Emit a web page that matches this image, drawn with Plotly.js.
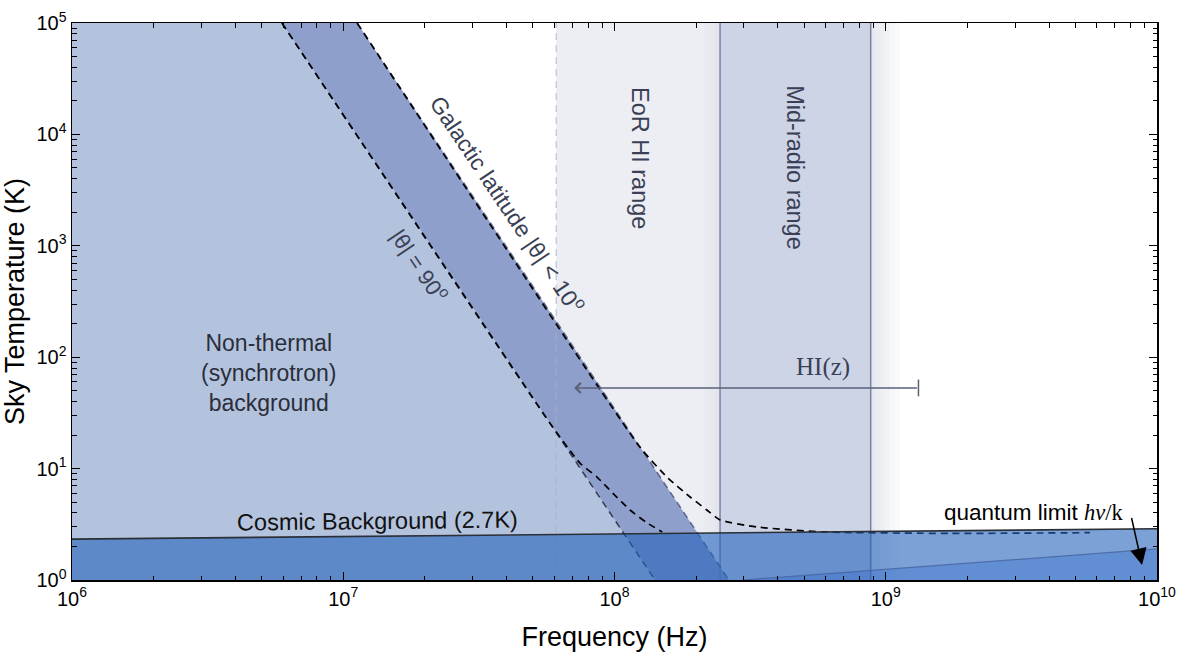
<!DOCTYPE html>
<html>
<head>
<meta charset="utf-8">
<script src="https://cdn.plot.ly/plotly-3.0.1.min.js"></script>
<style>html,body{margin:0;padding:0;background:#fff;}#chart{width:1177px;height:654px;}</style>
</head>
<body>
<div id="chart"></div>
<script>
// ---- data ----
const axisFreqRange = [1e6, 1e10];          // Hz
const axisTempRange = [1, 1e5];             // K
const freqTickVals = [1e6, 1e7, 1e8, 1e9, 1e10];
const freqTickText = ['10<sup>6</sup>', '10<sup>7</sup>', '10<sup>8</sup>', '10<sup>9</sup>', '10<sup>10</sup>'];
const tempTickVals = [1, 10, 100, 1000, 1e4, 1e5];
const tempTickText = ['10<sup>0</sup>', '10<sup>1</sup>', '10<sup>2</sup>', '10<sup>3</sup>', '10<sup>4</sup>', '10<sup>5</sup>'];

// synchrotron power-law lines (straight in log-log)
const synchFreq90 = [5.94e6, 1.41e8];       // |θ| = 90°
const synchTemp90 = [1e5, 1];
const synchFreq10 = [1.125e7, 2.64e8];      // |θ| < 10°
const synchTemp10 = [1e5, 1];

// synchrotron + CMB curves
const totalFreq90 = [5.94e6, 5.78e7, 7.46e7, 8.62e7, 9.87e7, 1.14e8, 1.32e8, 1.50e8];
const totalTemp90 = [1e5, 25.6, 11.2, 8.4, 6.0, 4.25, 3.25, 2.70];
const totalFreq10 = [1.125e7, 1.24e8, 1.56e8, 1.90e8, 2.19e8, 2.45e8, 3.35e8, 5.87e8, 1.73e9, 5.66e9];
const totalTemp10 = [1e5, 15.6, 8.4, 5.56, 4.25, 3.46, 2.99, 2.70, 2.62, 2.66];

// cosmic background line
const cmbFreq = [1e6, 1e10];
const cmbTemp = [2.33, 2.88];

// quantum limit line
const quantumFreq = [2.98e8, 1e10];
const quantumTemp = [1.0, 1.9];

// frequency ranges
const eorFreq = [6.1e7, 2.45e8];
const midRadioFreq = [2.45e8, 8.8e8];

// HI(z) arrow
const hiArrowFreq = [1.32e9, 7.1e7];  // tail, head
const hiArrowTemp = 53;

// ---- drawing ----
const SANS = 'Liberation Sans, Arial, Helvetica, sans-serif';
const SERIF = 'Liberation Serif, Times New Roman, serif';
const yBot = axisTempRange[0], yTop = axisTempRange[1];
const L = Math.log10;

function rect(f0, f1, color) {
  return {x:[f0, f1, f1, f0, f0], y:[yBot, yBot, yTop, yTop, yBot], mode:'lines',
    fill:'toself', fillcolor:color, line:{width:0}, hoverinfo:'skip', showlegend:false};
}
function vline(f, color, width, dash) {
  return {x:[f, f], y:[yBot, yTop], mode:'lines', line:{color:color, width:width, dash:dash||'solid'},
    hoverinfo:'skip', showlegend:false};
}

const traces = [];
// background frequency ranges
traces.push(rect(eorFreq[0], eorFreq[1], '#eceef3'));
traces.push(rect(midRadioFreq[0], midRadioFreq[1], '#cdd4e6'));
// soft shadow right of the mid-radio range
for (let k = 0; k < 6; k++) {
  const a = Math.pow(10, L(midRadioFreq[1]) + k * 0.018);
  const b = Math.pow(10, L(midRadioFreq[1]) + (k + 1) * 0.018);
  traces.push(rect(a, b, 'rgba(205,210,222,' + (0.5 - k * 0.08).toFixed(2) + ')'));
}
// soft shadow just left of the mid-radio range (inside EoR)
for (let k = 0; k < 4; k++) {
  const b = Math.pow(10, L(midRadioFreq[0]) - k * 0.015);
  const a = Math.pow(10, L(midRadioFreq[0]) - (k + 1) * 0.015);
  traces.push(rect(a, b, 'rgba(200,205,220,' + (0.25 - k * 0.06).toFixed(2) + ')'));
}

// non-thermal region (left of |θ|=90 line)
traces.push({x:[axisFreqRange[0], axisFreqRange[0], synchFreq90[0], synchFreq90[1], axisFreqRange[0]],
  y:[yBot, yTop, synchTemp90[0], synchTemp90[1], yBot], mode:'lines', fill:'toself',
  fillcolor:'#b4c3dd', line:{width:0}, hoverinfo:'skip', showlegend:false});
// galactic band between the two lines
traces.push({x:[synchFreq90[0], synchFreq10[0], synchFreq10[1], synchFreq90[1], synchFreq90[0]],
  y:[synchTemp90[0], synchTemp10[0], synchTemp10[1], synchTemp90[1], synchTemp90[0]], mode:'lines', fill:'toself',
  fillcolor:'#8e9fcb', line:{width:0}, hoverinfo:'skip', showlegend:false});

// EoR left boundary (dashed light)
traces.push(vline(eorFreq[0], 'rgba(165,175,205,0.6)', 1.5, '7px,5px'));
// mid-radio boundaries
traces.push(vline(midRadioFreq[0], '#7785aa', 1.5));
traces.push(vline(midRadioFreq[1], '#7785aa', 1.5));

// straight power-law lines
traces.push({x:synchFreq90, y:synchTemp90, mode:'lines', line:{color:'rgba(30,35,60,0.85)', width:1.5, dash:'7px,5px'}, hoverinfo:'skip', showlegend:false});
traces.push({x:synchFreq10, y:synchTemp10, mode:'lines', line:{color:'rgba(60,70,110,0.75)', width:1.5, dash:'7px,5px'}, hoverinfo:'skip', showlegend:false});
// total curves
traces.push({x:totalFreq90, y:totalTemp90, mode:'lines', line:{color:'#000', width:1.7, dash:'7px,5px', shape:'spline', smoothing:0.5}, hoverinfo:'skip', showlegend:false});
traces.push({x:totalFreq10, y:totalTemp10, mode:'lines', line:{color:'#000', width:1.7, dash:'7px,5px', shape:'spline', smoothing:0.5}, hoverinfo:'skip', showlegend:false});

// HI(z) tail bar
traces.push({x:[hiArrowFreq[0]], y:[hiArrowTemp], mode:'markers',
  marker:{symbol:'line-ns-open', size:12, color:'#5b6079', line:{color:'#5b6079', width:1.5}}, hoverinfo:'skip', showlegend:false});

// CMB fill (below the cosmic background)
traces.push({x:[cmbFreq[0], cmbFreq[1], cmbFreq[1], cmbFreq[0], cmbFreq[0]],
  y:[cmbTemp[0], cmbTemp[1], yBot, yBot, cmbTemp[0]], mode:'lines', fill:'toself',
  fillcolor:'rgba(35,98,188,0.6)', line:{width:0}, hoverinfo:'skip', showlegend:false});
// quantum limit fill
traces.push({x:[quantumFreq[0], quantumFreq[1], quantumFreq[1], quantumFreq[0]],
  y:[quantumTemp[0], quantumTemp[1], yBot, quantumTemp[0]], mode:'lines', fill:'toself',
  fillcolor:'rgba(40,100,205,0.3)', line:{width:0}, hoverinfo:'skip', showlegend:false});
traces.push({x:quantumFreq, y:quantumTemp, mode:'lines', line:{color:'rgba(70,100,160,0.8)', width:1.2}, hoverinfo:'skip', showlegend:false});
// CMB line
traces.push({x:cmbFreq, y:cmbTemp, mode:'lines', line:{color:'#2b2f36', width:1.6}, hoverinfo:'skip', showlegend:false});

// geometry for rotated labels
const W = 1177, H = 654;
const margin = {l:72, r:20, t:23, b:74};
const pw = W - margin.l - margin.r, ph = H - margin.t - margin.b;
const pxPerDecX = pw / (L(axisFreqRange[1]) - L(axisFreqRange[0]));
const pxPerDecY = ph / (L(axisTempRange[1]) - L(axisTempRange[0]));
const slopeDec = (L(synchTemp90[1]) - L(synchTemp90[0])) / (L(synchFreq90[1]) - L(synchFreq90[0]));
const lineAngle = Math.atan(-slopeDec * pxPerDecY / pxPerDecX) * 180 / Math.PI;

const labelColor = '#3a3f55';
const annotations = [
  {x:6.723, y:1.858, text:'Non-thermal<br>(synchrotron)<br>background', showarrow:false,
   font:{family:SANS, size:23, color:'#2a2e3a'}},
  {x:7.128, y:0.53, text:'Cosmic Background (2.7K)', showarrow:false, textangle:-0.6,
   font:{family:SANS, size:23.5, color:'#111'}},
  {x:7.607, y:3.375, text:'Galactic latitude |θ| < 10<sup>o</sup>', showarrow:false, textangle:lineAngle,
   font:{family:SANS, size:23, color:labelColor}},
  {x:7.283, y:2.828, text:'|θ| = 90<sup>o</sup>', showarrow:false, textangle:lineAngle,
   font:{family:SANS, size:22, color:labelColor}},
  {x:8.094, y:3.788, text:'EoR HI range', showarrow:false, textangle:90,
   font:{family:SANS, size:23.5, color:labelColor}},
  {x:8.665, y:3.698, text:'Mid-radio range', showarrow:false, textangle:90,
   font:{family:SANS, size:23.5, color:labelColor}},
  {x:8.769, y:1.912, text:'HI(z)', showarrow:false,
   font:{family:SERIF, size:25, color:labelColor}},
  {x:L(hiArrowFreq[1]), y:L(hiArrowTemp), ax:L(hiArrowFreq[0]), ay:L(hiArrowTemp), axref:'x', ayref:'y',
   xref:'x', yref:'y', text:'', showarrow:true, arrowhead:4, arrowsize:1.3, arrowwidth:1.5, arrowcolor:'#5b6079'},
  {x:9.547, y:0.61, text:'quantum limit <span style="font-family:Liberation Serif"><i>hν</i>/k</span>', showarrow:false,
   font:{family:SANS, size:22.5, color:'#000'}},
  {x:9.945, y:0.135, ax:9.905, ay:0.57, axref:'x', ayref:'y', xref:'x', yref:'y', text:'',
   showarrow:true, arrowhead:2, arrowsize:2.2, arrowwidth:1.5, arrowcolor:'#000'}
];

const axisCommon = {
  type:'log', showgrid:false, zeroline:false, showline:true, linecolor:'#000', linewidth:1.5,
  mirror:'ticks', ticks:'inside', ticklen:8, tickwidth:1.2, tickcolor:'#000', tickmode:'array',
  tickfont:{family:SANS, size:20, color:'#000'},
  minor:{ticks:'inside', ticklen:4.5, tickwidth:1, tickcolor:'#000', dtick:'D1', showgrid:false}
};

const layout = {
  width:W, height:H, margin:margin, paper_bgcolor:'#fff', plot_bgcolor:'#fff', showlegend:false,
  xaxis:Object.assign({}, axisCommon, {range:[L(axisFreqRange[0]), L(axisFreqRange[1])],
    tickvals:freqTickVals, ticktext:freqTickText,
    title:{text:'Frequency (Hz)', font:{family:SANS, size:27, color:'#000'}, standoff:18}}),
  yaxis:Object.assign({}, axisCommon, {range:[L(axisTempRange[0]), L(axisTempRange[1])],
    tickvals:tempTickVals, ticktext:tempTickText,
    title:{text:'Sky Temperature (K)', font:{family:SANS, size:27, color:'#000'}, standoff:6}}),
  annotations:annotations
};

Plotly.newPlot('chart', traces, layout, {staticPlot:true, displayModeBar:false});
</script>
</body>
</html>
